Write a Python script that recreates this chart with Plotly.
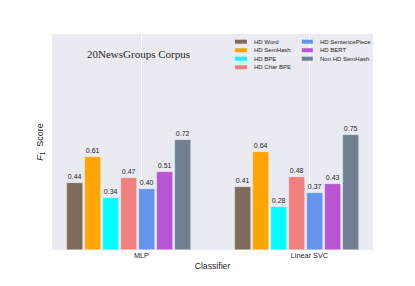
import plotly.graph_objects as go

categories = ["MLP", "Linear SVC"]
series_names = ["HD Word", "HD SemHash", "HD BPE", "HD Char BPE",
                "HD SentencePiece", "HD BERT", "Non HD SemHash"]
series_colors = ["#7F6B5B", "#FFA500", "#00FFFF", "#F08080",
                 "#6495ED", "#BA55D3", "#708090"]
values_mlp = [0.44, 0.61, 0.34, 0.47, 0.40, 0.51, 0.72]
values_svc = [0.41, 0.64, 0.28, 0.48, 0.37, 0.43, 0.75]

SANS = "Liberation Sans"
pitch = 0.107
bar_w = 0.097
first_offset = -3.7

fig = go.Figure()
for i, name in enumerate(series_names):
    xs = [c + (first_offset + i) * pitch for c in range(len(categories))]
    ys = [values_mlp[i], values_svc[i]]
    fig.add_trace(go.Bar(
        x=xs, y=ys, width=bar_w, name=name,
        marker=dict(color=series_colors[i], line=dict(color="rgba(255,255,255,0.6)", width=0.6)),
        texttemplate="%{y:.2f}", textposition="outside",
        textfont=dict(size=7, color="#262626", family=SANS),
        cliponaxis=False, showlegend=False,
    ))

# manual two-column legend (column-major order)
px_left, px_right, px_top, px_bot = 51.7, 373.3, 34.0, 250.0
def px_x(p):
    return (p - px_left) / (px_right - px_left)
def px_y(p):
    return (px_bot - p) / (px_bot - px_top)

row_y = [41.7, 50.2, 58.7, 67.3]
cols = [(235, 247, 252), (302, 313, 318)]
shapes = []
annotations = []
for i, name in enumerate(series_names):
    col = 0 if i < 4 else 1
    row = i if i < 4 else i - 4
    sx0, sx1, tx = cols[col]
    yc = row_y[row]
    shapes.append(dict(type="rect", xref="paper", yref="paper",
                       x0=px_x(sx0), x1=px_x(sx1), y0=px_y(yc + 2), y1=px_y(yc - 2),
                       fillcolor=series_colors[i], line=dict(width=0)))
    annotations.append(dict(text=name, xref="paper", yref="paper", x=px_x(tx), y=px_y(yc),
                            xanchor="left", yanchor="middle", showarrow=False,
                            font=dict(size=6, color="#262626", family=SANS)))

annotations.append(dict(text="20NewsGroups Corpus", xref="paper", yref="paper",
                        x=px_x(138), y=px_y(54), xanchor="center", yanchor="middle",
                        showarrow=False,
                        font=dict(size=11, color="#262626", family="Liberation Serif")))

fig.update_layout(
    width=415, height=286,
    margin=dict(l=52, r=42, t=34, b=36, autoexpand=False),
    paper_bgcolor="white", plot_bgcolor="#EAEAF2",
    bargap=0, showlegend=False,
    shapes=shapes, annotations=annotations,
    font=dict(family=SANS, color="#262626"),
)
fig.update_xaxes(
    range=[-0.532, 1.378], tickvals=list(range(len(categories))), ticktext=categories,
    showgrid=True, gridcolor="white", gridwidth=1, zeroline=False, ticks="",
    tickfont=dict(size=7.3, color="#262626", family=SANS),
    title=dict(text="Classifier", font=dict(size=8.7, color="#262626", family=SANS), standoff=3),
)
fig.update_yaxes(
    range=[0, 1.413], showticklabels=False, showgrid=False, zeroline=False, ticks="",
    title=dict(text="<i>F</i><sub>1</sub>  Score", font=dict(size=9, color="#262626", family=SANS), standoff=5),
)
fig.write_html("out.html", config={"displayModeBar": False},
               post_script="document.body.style.margin='0px';")
